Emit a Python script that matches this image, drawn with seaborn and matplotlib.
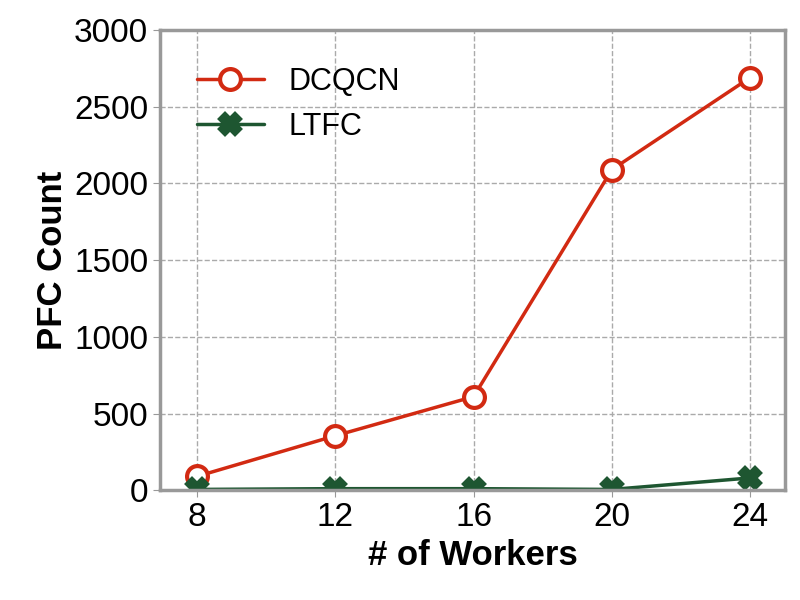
import seaborn as sns
import matplotlib.pyplot as plt
import pandas as pd

workers = [8, 12, 16, 20, 24]
dcqcn = [90, 355, 610, 2090, 2690]
ltfc = [5, 10, 10, 5, 80]

df = pd.DataFrame({
    'workers': workers * 2,
    'count': dcqcn + ltfc,
    'scheme': ['DCQCN'] * 5 + ['LTFC'] * 5,
})

sns.set_style('whitegrid')
plt.rcParams['font.family'] = ['Liberation Sans', 'DejaVu Sans']
plt.rcParams['text.color'] = 'black'
plt.rcParams['axes.labelcolor'] = 'black'
plt.rcParams['xtick.color'] = 'black'
plt.rcParams['ytick.color'] = 'black'

fig, ax = plt.subplots(figsize=(8, 6), dpi=100)
palette = {'DCQCN': '#d22a12', 'LTFC': '#1e5631'}
sns.lineplot(data=df, x='workers', y='count', hue='scheme', style='scheme',
             markers={'DCQCN': 'o', 'LTFC': 'X'}, dashes=False, palette=palette,
             lw=2.5, markersize=15, markeredgewidth=3, ax=ax)
for line in ax.lines:
    c = line.get_color()
    line.set_markeredgecolor(c)
    if line.get_marker() == 'o':
        line.set_markerfacecolor('white')

ax.set_xlim(6.93, 25.0)
ax.set_ylim(0, 3000)
ax.set_xticks(workers)
ax.set_yticks(range(0, 3001, 500))
ax.tick_params(labelsize=24, length=5, color='#999999', left=True, bottom=True,
               labelcolor='black')
ax.grid(True, ls='--', color='#aaaaaa', lw=1)
for s in ax.spines.values():
    s.set_color('#999999')
    s.set_linewidth(2.5)
ax.set_xlabel('# of Workers', fontsize=25, fontweight='bold', color='black')
ax.set_ylabel('PFC Count', fontsize=25, fontweight='bold', color='black')
leg = ax.legend(loc='upper left', fontsize=22, frameon=False, title=None,
                handlelength=2.2, borderaxespad=0.8)
for t in leg.get_texts():
    t.set_color('black')
for h in leg.legend_handles:
    h.set_markersize(15)
    h.set_markeredgewidth(3)
    h.set_linewidth(2.5)
    h.set_markeredgecolor(h.get_color())
leg.legend_handles[0].set_markerfacecolor('white')

plt.subplots_adjust(left=0.2, right=0.981, top=0.95, bottom=0.183)
plt.savefig('out.png')
